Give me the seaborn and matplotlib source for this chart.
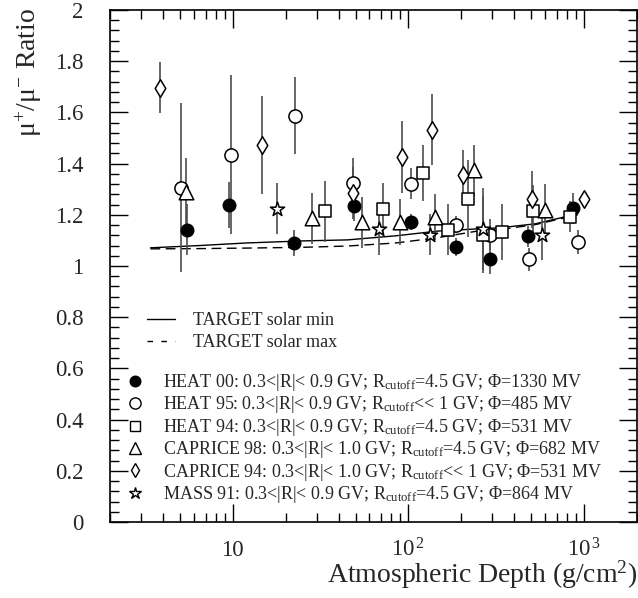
"""mu+/mu- ratio versus atmospheric depth: balloon data vs TARGET predictions."""
import matplotlib
matplotlib.use("Agg")
import matplotlib.pyplot as plt
from matplotlib.lines import Line2D
from matplotlib.ticker import FixedLocator, FixedFormatter, LogLocator, MultipleLocator, NullFormatter
import numpy as np
import pandas as pd
import seaborn as sns

# ---- TARGET calculations ------------------------------------------------ #
target_depth = [3.4, 6.5, 12, 25, 45, 85, 145, 245, 330, 530, 920]
target_solar_min = [1.071, 1.080, 1.090, 1.098, 1.102, 1.118, 1.136, 1.145, 1.149, 1.165, 1.204]
target_solar_max = [1.067, 1.068, 1.070, 1.073, 1.078, 1.090, 1.110, 1.136, 1.142, 1.162, 1.200]

# ---- measurements (depth g/cm^2, ratio, error) --------------------------- #
heat00_depth = [5.5, 9.5, 22.2, 48.7, 103, 187, 290, 481, 863]
heat00_ratio = [1.142, 1.240, 1.090, 1.234, 1.172, 1.073, 1.028, 1.116, 1.226]
heat00_err = [0.10, 0.09, 0.05, 0.06, 0.03, 0.035, 0.06, 0.04, 0.06]

heat95_depth = [5.06, 9.75, 22.7, 48.3, 103, 186, 291, 487, 917]
heat95_ratio = [1.305, 1.435, 1.587, 1.323, 1.322, 1.162, 1.122, 1.026, 1.093]
heat95_err = [0.33, 0.31, 0.15, 0.10, 0.06, 0.035, 0.06, 0.045, 0.047]

heat94_depth = [33.4, 71.6, 121.6, 167, 217, 267, 341, 511, 827]
heat94_ratio = [1.213, 1.224, 1.364, 1.142, 1.263, 1.122, 1.132, 1.215, 1.192]
heat94_err = [0.12, 0.10, 0.11, 0.10, 0.15, 0.15, 0.11, 0.10, 0.06]

caprice98_depth = [5.41, 28.1, 54.7, 89.7, 142, 235, 596]
caprice98_ratio = [1.291, 1.187, 1.171, 1.171, 1.190, 1.374, 1.220]
caprice98_err = [0.13, 0.10, 0.10, 0.09, 0.09, 0.10, 0.10]

caprice94_depth = [3.85, 14.7, 48.3, 92, 137, 204, 508, 1000]
caprice94_ratio = [1.697, 1.473, 1.285, 1.425, 1.533, 1.355, 1.260, 1.260]
caprice94_err = [0.10, 0.19, 0.10, 0.14, 0.14, 0.10, 0.11, 0.0]

mass91_depth = [17.9, 67.6, 133, 264, 572]
mass91_ratio = [1.224, 1.143, 1.123, 1.143, 1.122]
mass91_err = [0.10, 0.10, 0.08, 0.16, 0.10]

legend_labels = [
    r"HEAT 00: 0.3<|R|< 0.9 GV; R$_{\rm cutoff}$=4.5 GV; $\Phi$=1330 MV",
    r"HEAT 95: 0.3<|R|< 0.9 GV; R$_{\rm cutoff}$<< 1 GV; $\Phi$=485 MV",
    r"HEAT 94: 0.3<|R|< 0.9 GV; R$_{\rm cutoff}$=4.5 GV; $\Phi$=531 MV",
    r"CAPRICE 98: 0.3<|R|< 1.0 GV; R$_{\rm cutoff}$=4.5 GV; $\Phi$=682 MV",
    r"CAPRICE 94: 0.3<|R|< 1.0 GV; R$_{\rm cutoff}$<< 1 GV; $\Phi$=531 MV",
    r"MASS 91: 0.3<|R|< 0.9 GV; R$_{\rm cutoff}$=4.5 GV; $\Phi$=864 MV",
]

sns.set_style("ticks")
plt.rcParams["font.family"] = ["Liberation Serif", "DejaVu Serif"]
plt.rcParams["mathtext.fontset"] = "custom"
plt.rcParams["mathtext.rm"] = "Liberation Serif"
plt.rcParams["mathtext.it"] = "Liberation Serif:italic"
plt.rcParams["mathtext.bf"] = "Liberation Serif:bold"

fig = plt.figure(figsize=(6.38, 5.98), dpi=100)
ax = fig.add_axes([110 / 638, 76 / 598, 527 / 638, 512 / 598])

# TARGET curves
curves = pd.DataFrame({"depth": target_depth, "min": target_solar_min, "max": target_solar_max})
sns.lineplot(data=curves, x="depth", y="min", ax=ax, color="black", lw=1.0, sort=False, zorder=2)
sns.lineplot(data=curves, x="depth", y="max", ax=ax, color="black", lw=1.0, sort=False,
             linestyle=(0, (7, 4)), zorder=2)

# (name, depth, ratio, err, marker, face, size)
datasets = [
    ("HEAT 00", heat00_depth, heat00_ratio, heat00_err, "o", "black", 80),
    ("HEAT 95", heat95_depth, heat95_ratio, heat95_err, "o", "white", 90),
    ("HEAT 94", heat94_depth, heat94_ratio, heat94_err, "s", "white", 85),
    ("CAPRICE 98", caprice98_depth, caprice98_ratio, caprice98_err, "^", "white", 110),
    ("CAPRICE 94", caprice94_depth, caprice94_ratio, caprice94_err, "d", "white", 80),
    ("MASS 91", mass91_depth, mass91_ratio, mass91_err, "*", "white", 115),
]

for name, depth, ratio, err, marker, face, size in datasets:
    d = np.asarray(depth)
    r = np.asarray(ratio)
    e = np.asarray(err)
    ax.vlines(d, r - e, r + e, color="0.3", lw=1.2, zorder=3)
    sns.scatterplot(x=d, y=r, ax=ax, marker=marker, s=size, facecolor=face,
                    edgecolor="black", linewidth=1.1, zorder=4)

ax.set_xscale("log")
ax.set_xlim(2, 2000)
ax.set_ylim(0, 2)
ax.set_xlabel("")
ax.set_ylabel("")

ax.xaxis.set_major_locator(FixedLocator([10, 100, 1000]))
ax.xaxis.set_major_formatter(FixedFormatter(["10", r"10$^{\,2}$", r"10$^{\,3}$"]))
ax.xaxis.set_minor_locator(LogLocator(base=10, subs=np.arange(2, 10)))
ax.xaxis.set_minor_formatter(NullFormatter())
ax.yaxis.set_major_locator(MultipleLocator(0.2))
ax.yaxis.set_minor_locator(MultipleLocator(0.04))
ax.yaxis.set_major_formatter(matplotlib.ticker.FuncFormatter(lambda v, p: f"{v:g}"))

ax.tick_params(which="both", direction="in", top=True, right=True, width=1.0, color="black")
ax.tick_params(which="major", length=13)
ax.tick_params(which="minor", length=6.5)
ax.tick_params(axis="y", which="major", labelsize=16.5, pad=19)
ax.tick_params(axis="x", which="major", labelsize=16.5, pad=24.5)
for lab in ax.get_xticklabels():
    lab.set_verticalalignment("baseline")
for side in ax.spines.values():
    side.set_linewidth(1.2)
    side.set_color("black")

# legends
line_handles = [
    Line2D([], [], color="black", lw=1.0),
    Line2D([], [], color="black", lw=1.0, linestyle=(0, (4, 6))),
]
leg1 = ax.legend(line_handles, ["TARGET solar min", "TARGET solar max"], loc="upper left",
                 bbox_to_anchor=(0.070, 0.410), frameon=False, fontsize=13,
                 borderpad=0, borderaxespad=0, handlelength=1.55, handletextpad=1.0,
                 labelspacing=0.3)
ax.add_artist(leg1)

marker_handles = [
    Line2D([], [], ls="none", marker=m, ms=np.sqrt(s) * 0.85, mfc=f, mec="black", mew=1.0)
    for _, _, _, _, m, f, s in datasets
]
ax.legend(marker_handles, legend_labels, loc="upper left", bbox_to_anchor=(0.030, 0.293),
          frameon=False, fontsize=13, borderpad=0, borderaxespad=0, handlelength=1.0,
          handletextpad=1.05, labelspacing=0.08)

fig.text(29 / 638, 1 - 8 / 598, "μ$^{+}$/μ$^{-}$ Ratio", rotation=90, ha="center", va="top",
         fontsize=20)
fig.text(637 / 638, 1 - 583 / 598, r"Atmospheric Depth (g/cm$^{2}$)", ha="right", va="baseline",
         fontsize=20)

fig.savefig("out.png", dpi=100)
